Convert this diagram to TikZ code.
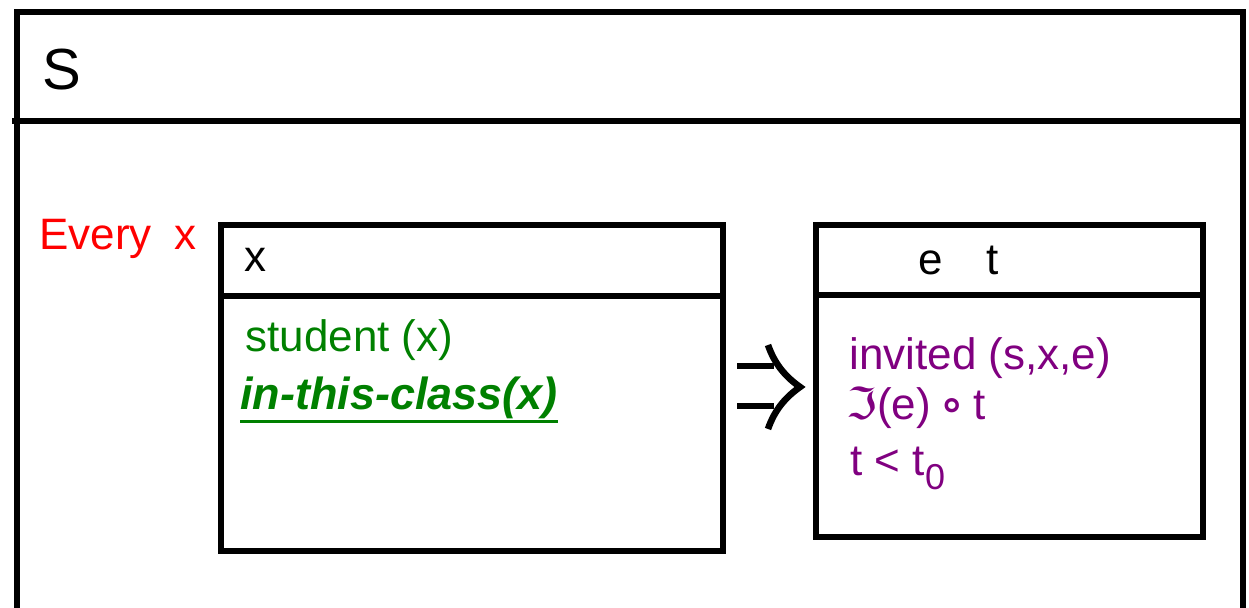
\documentclass[tikz,border=0pt]{standalone}
\usepackage{fontspec}
\setmainfont{Liberation Sans}
\newfontfamily\symfont{DejaVu Sans}
\definecolor{drsgreen}{RGB}{0,128,0}
\definecolor{drspurple}{RGB}{128,0,128}
\definecolor{drsred}{RGB}{255,0,0}

\begin{document}
\begin{tikzpicture}[x=0.5pt,y=-0.5pt,
  box/.style={line width=3.2pt},
  lbl/.style={anchor=base west, inner sep=0pt, font=\fontsize{22}{26}\selectfont}]
\useasboundingbox (0,0) rectangle (1249,608);
\clip (0,0) rectangle (1249,608);

% outer box
\draw[box] (17,12) rectangle (1243,650);
\draw[box] (12,121) -- (1243,121);
\node[lbl, font=\fontsize{29}{33}\selectfont] (s) at (42,90) {S};
\node[lbl, drsred] (every) at (39,250) {Every\hspace{5pt} x};

% left box
\draw[box] (221,225) rectangle (723,551);
\draw[box] (221,296) -- (723,296);
\node[lbl] (xref) at (244,272) {x};
\node[lbl, drsgreen] (student) at (245,352) {student (x)};
\node[lbl, drsgreen, font=\fontsize{22.5}{26}\selectfont\bfseries\itshape] (cls) at (240,410) {in-this-class(x)};
\draw[drsgreen, line width=1.6pt] ([yshift=-1pt]cls.south west) -- ([yshift=-1pt]cls.south east);

% right box
\draw[box] (816,225) rectangle (1203,537);
\draw[box] (816,295) -- (1203,295);
\node[lbl] (et) at (918,275) {e\hspace{22pt}t};
\node[lbl, drspurple] (inv) at (849,370) {invited (s,x,e)};
\node[lbl, drspurple] (tau) at (846,420) {{\symfont ℑ}(e)\,{\symfont\bfseries ∘}\,t};
\node[lbl, drspurple] (tlt) at (850,476) {t < t\raisebox{-0.3em}{\fontsize{18}{20}\selectfont 0}};

% implication
\draw[line width=3.3pt] (737,366) -- (774,366);
\draw[line width=3.3pt] (737,406) -- (774,406);
\draw[line width=3.3pt] (768,345) .. controls (775,365) and (786,377) .. (800,387)
  .. controls (786,397) and (775,409) .. (768,429);
\end{tikzpicture}
\end{document}
